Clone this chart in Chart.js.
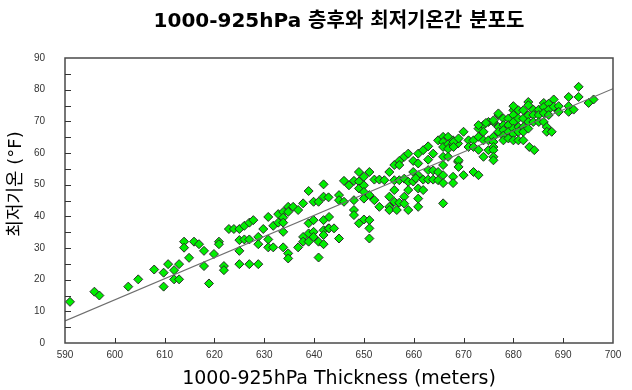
<!DOCTYPE html>
<html><head><meta charset="utf-8">
<script src="https://cdn.jsdelivr.net/npm/chart.js@4.4.1/dist/chart.umd.min.js"></script>
<style>html,body{margin:0;padding:0;background:#fff;}#wrap{width:632px;height:390px;}</style>
</head><body><div id="wrap"><canvas id="c" width="632" height="390"></canvas></div>
<script>
const chartTitle = "1000-925hPa 층후와 최저기온간 분포도";
const xTitle = "1000-925hPa Thickness (meters)";
const yTitle = "최저기온 (°F)";
const xTicks = [590,600,610,620,630,640,650,660,670,680,690,700];
const yTicks = [0,10,20,30,40,50,60,70,80,90];
const thickness = [591,595.9,596.9,602.7,604.7,607.9,609.8,609.8,610.7,611.9,611.9,612.9,612.9,613.9,613.9,614.9,615.9,616.9,617.9,617.9,618.9,619.9,620.9,620.9,621.9,621.9,622.9,623.9,625,626,627,627.8,625,625,626,627,625,627,628.8,628.8,628.8,629.8,630.8,630.8,630.8,631.8,631.8,632.8,632.8,633.8,633.8,633.8,633.8,633.8,634.8,634.8,634.8,634.8,635.8,636.8,637.8,636.8,637.8,637.8,638.9,638.9,638.9,638.9,639.9,639.9,639.9,639.9,640.9,640.9,640.9,641.9,641.9,641.9,641.9,641.9,642.9,642.9,643,641.9,643,644,645,645,645,646,646,647,648,648,648,648,649,649,649,649,650,650,650,650,650,651.1,651.1,651.1,651.1,651.1,652.1,652.1,653.1,653.1,654.1,655.1,655.1,655.1,655.1,656.1,656.1,656.1,656.1,656.6,657.1,657.1,657.1,657.1,658.1,658.1,658.1,658.1,658.9,658.9,658.9,658.9,659.9,659.9,659.9,660.9,660.9,660.9,660.4,660.9,660.9,660.9,661.9,661.9,661.9,662.9,662.9,662.9,662.9,663.9,663.9,663.9,664.9,664.9,664.9,665.9,665.9,665.9,665.9,665.9,665.9,665.9,665.9,666.9,666.9,666.9,667.9,667.9,666.9,667.9,667.9,668.9,668.9,668,668,669,669,669,670,670,671,671,672,672,672,673,673,673,673,674,674,674,674,675,675,675,676,676,676,676,676,676,676,677,677,677,678,678,678,678,678,679,679,679,679,680,680,680,680,680,680,680,681,681,681,681,681,682,682,682,682,682,683,683,683,683,683,683.2,684.2,684,684,684,685.1,685.1,685.1,686.1,686.1,686.1,686.1,686.7,686.7,687.7,687.1,687.1,687.1,688.1,688.1,689.1,689.1,691.1,691.1,691.1,692.1,693.1,693.1,695.1,696.1,673,674.5,676,677];
const minTemp = [13,16.2,15,17.8,20.1,23.2,22.2,17.8,24.9,23,20.1,24.9,20.1,32,30.1,26.9,32,31.2,29.1,24.3,18.8,28.1,32,31.2,24.3,23,36,36,36,37,38,38.8,32.5,29.1,32.7,32.7,24.9,24.9,24.9,33.5,31.2,36,39.8,32.7,30.2,30.2,37,40.7,38,41.4,39.6,38,35.1,30.2,43,41.4,28.3,26.7,43,42,44.1,30.2,33.5,32,48,37.8,34.6,32,44.6,38.8,35.1,33.5,44.6,32,27,50.1,46.2,38.8,35.6,31.2,46,36.2,39.8,34.1,36.2,36.2,33,46.7,45.1,51.2,44.6,49.8,51.2,45.1,42,40.4,54,51,48.8,37.8,52.5,49.8,47.7,45.6,39,54,46.7,38.8,36.2,33,51.6,45.1,43,51.6,51.4,54,46.2,43,42,56.2,51.4,48.3,44.6,42,57.5,56.2,51.4,44.3,58.8,51.9,46.2,44,59.8,50.9,48.3,42,57.5,54,51,59.8,56.7,53,52,48.8,45.6,43,60.9,51.6,48.3,62.1,57.9,54.6,51.6,59.8,54.5,51.6,64,54,51.4,65.1,63.5,61.9,58.8,56.2,53,50.5,44.1,65.1,62.8,61.3,64,63,58.8,52.5,50.5,57.2,63,63.5,61.9,64.6,57.7,55.6,66.7,53,64,61.9,64,61.9,54,67.7,65.1,61,53,68.8,66.7,64,58.8,69.8,64,60.9,69.8,65.1,63.5,61.9,60.9,58.8,57.7,72,68.2,66.7,70.9,68.8,67.2,65.5,64,70.9,68.8,66.7,64.6,73.5,72,69.8,67.7,66,64,74.8,73.5,70.9,68.2,66.7,64,73.5,70.9,68.2,66.7,64,76.1,75.1,71.9,69.8,67.7,61.9,60.9,73.7,72,69.8,73.7,72,69.8,75.8,74.5,72.6,69.8,68.2,66.7,66.7,75.6,73.7,72,76.9,74.6,74.8,73,77.7,74.8,73,73.7,80.9,77.7,75.8,76.9,68.8,69.5,70.3,72.5];
const fitX = [590, 700];
const fitY = [7.0, 80.3];

const points = thickness.map((x, i) => ({x: x, y: minTemp[i]}));
const fitLine = fitX.map((x, i) => ({x: x, y: fitY[i]}));

const decor = {
  id: 'decor',
  afterDatasetsDraw(chart) {
    const ctx = chart.ctx, a = chart.chartArea;
    const xs = chart.scales.x, ys = chart.scales.y;
    ctx.save();
    ctx.strokeStyle = '#4a4a4a';
    ctx.lineWidth = 1.5;
    ctx.strokeRect(a.left, a.top, a.right - a.left, a.bottom - a.top);
    ctx.lineWidth = 1;
    ctx.strokeStyle = '#333';
    ctx.beginPath();
    xTicks.slice(1, -1).forEach(v => {
      const px = Math.round(xs.getPixelForValue(v)) + 0.5;
      ctx.moveTo(px, a.bottom); ctx.lineTo(px, a.bottom - 5);
    });
    for (let v = 5; v < 90; v += 5) {
      const py = Math.round(ys.getPixelForValue(v)) + 0.5;
      ctx.moveTo(a.left, py); ctx.lineTo(a.left + 6, py);
    }
    ctx.stroke();
    // title
    ctx.fillStyle = '#000';
    ctx.font = 'bold 20px "DejaVu Sans", "Noto Sans CJK KR"';
    ctx.textAlign = 'center';
    ctx.textBaseline = 'middle';
    ctx.fillText(chartTitle, (a.left + a.right) / 2, 22);
    // y title
    ctx.translate(16, 184);
    ctx.rotate(-Math.PI / 2);
    ctx.font = '18px "DejaVu Sans", "Noto Sans CJK KR"';
    ctx.fillText(yTitle, 0, 0);
    ctx.restore();
  }
};

new Chart(document.getElementById('c'), {
  type: 'scatter',
  data: {
    datasets: [
      { type: 'line', data: fitLine, borderColor: '#6e6e6e', borderWidth: 1.2, pointRadius: 0, fill: false },
      { data: points, pointStyle: 'rectRot', pointRadius: 4.5, pointHoverRadius: 4.5,
        backgroundColor: '#00ee00', borderColor: '#2b2b2b', borderWidth: 1 }
    ]
  },
  options: {
    responsive: false,
    animation: false,
    events: [],
    layout: { padding: { left: 0, top: 58, right: 19, bottom: 0 } },
    plugins: { legend: { display: false }, tooltip: { enabled: false }, title: { display: false } },
    scales: {
      x: {
        type: 'linear', min: 590, max: 700,
        afterFit(s) { s.height = 47; },
        afterBuildTicks(s) { s.ticks = xTicks.map(v => ({value: v})); },
        grid: { display: false, drawTicks: false, tickLength: 0 }, border: { display: false },
        ticks: { padding: 6, color: '#333', font: { family: 'Liberation Sans', size: 10 } },
        title: { display: true, text: xTitle, color: '#000', padding: { top: 0, bottom: 0 },
                 font: { family: '"DejaVu Sans"', size: 19 } }
      },
      y: {
        type: 'linear', min: 0, max: 90,
        afterFit(s) { s.width = 65; },
        afterBuildTicks(s) { s.ticks = yTicks.map(v => ({value: v})); },
        grid: { display: false, drawTicks: false, tickLength: 0 }, border: { display: false },
        ticks: { padding: 20, color: '#333', font: { family: 'Liberation Sans', size: 10 } }
      }
    }
  },
  plugins: [decor]
});
</script></body></html>
